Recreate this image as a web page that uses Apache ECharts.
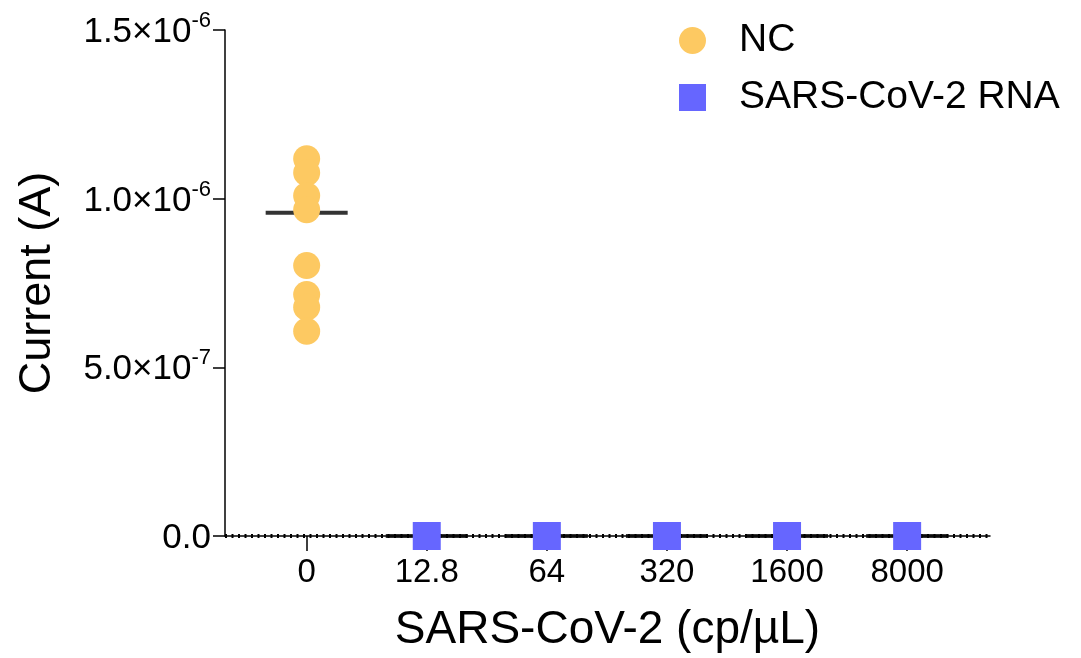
<!DOCTYPE html>
<html><head><meta charset="utf-8">
<script src="https://cdn.jsdelivr.net/npm/echarts@6/dist/echarts.min.js"></script>
<style>html,body{margin:0;padding:0;background:#fff}#c{width:1081px;height:658px}</style>
</head><body><div id="c"></div>
<script>
var categories = ['0', '12.8', '64', '320', '1600', '8000'];
var ncValues = [1.118e-6, 1.077e-6, 1.009e-6, 0.967e-6, 0.802e-6, 0.716e-6, 0.678e-6, 0.607e-6];
var rnaValues = [0, 0, 0, 0, 0];
var meanValues = [0.958e-6, 0, 0, 0, 0, 0];
var yTicks = [0, 5e-7, 1e-6, 1.5e-6];
var yTickMant = ['0.0', '5.0×10', '1.0×10', '1.5×10'];
var yTickExp = ['', '-7', '-6', '-6'];

var FONT = "'Liberation Sans', Arial, Helvetica, sans-serif";
var catIdx = categories.map(function (c, i) { return i; });

var chart = echarts.init(document.getElementById('c'), null, {renderer: 'canvas'});
chart.setOption({
  animation: false,
  textStyle: {fontFamily: FONT},
  grid: {left: 225, right: 91, top: 30, bottom: 121, containLabel: false},
  legend: {
    left: 674, top: 16, orient: 'vertical', itemWidth: 27, itemHeight: 27, itemGap: 18,
    textStyle: {fontSize: 39, lineHeight: 39, color: '#000', fontFamily: FONT, padding: [0, 0, 0, 28]},
    data: [{name: 'NC', icon: 'circle'}, {name: 'SARS-CoV-2 RNA', icon: 'rect'}]
  },
  xAxis: [{
    type: 'value', min: -0.68, max: 5.69, position: 'bottom',
    name: 'SARS-CoV-2 (cp/µL)', nameLocation: 'middle', nameGap: 71,
    nameTextStyle: {fontSize: 46, color: '#000', fontFamily: FONT},
    splitLine: {show: false},
    axisLine: {show: true, onZero: false, lineStyle: {color: '#000', width: 1.5}},
    axisTick: {show: true, length: 15, customValues: catIdx, lineStyle: {color: '#000', width: 1.5}},
    axisLabel: {show: true, customValues: catIdx, margin: 20, fontSize: 33, color: '#000', fontFamily: FONT,
      formatter: function (v) { return categories[Math.round(v)]; }}
  }, {
    type: 'value', min: -0.68, max: 5.69, position: 'bottom',
    splitLine: {show: false},
    axisLine: {show: true, onZero: false, lineStyle: {color: '#000', width: 4, type: [2, 4.5], cap: 'butt'}},
    axisTick: {show: false}, axisLabel: {show: false}
  }],
  yAxis: {
    type: 'value', min: 0, max: 1.5e-6, interval: 5e-7,
    name: 'Current (A)', nameLocation: 'middle', nameGap: 165,
    nameTextStyle: {fontSize: 45, color: '#000', fontFamily: FONT},
    splitLine: {show: false},
    axisLine: {show: true, onZero: false, lineStyle: {color: '#000', width: 1.5}},
    axisTick: {show: true, length: 12, lineStyle: {color: '#000', width: 1.5}},
    axisLabel: {
      margin: 14, color: '#000', fontFamily: FONT,
      formatter: function (v) {
        var i = -1;
        for (var k = 0; k < yTicks.length; k++) if (Math.abs(yTicks[k] - v) < 1e-12) i = k;
        if (i < 0) return '';
        if (!yTickExp[i]) return '{b|' + yTickMant[i] + '}';
        return '{b|' + yTickMant[i] + '}{s|' + yTickExp[i] + '}';
      },
      rich: {
        b: {fontSize: 35, color: '#000', fontFamily: FONT, lineHeight: 40, verticalAlign: 'bottom'},
        s: {fontSize: 22, color: '#000', fontFamily: FONT, lineHeight: 40, verticalAlign: 'top', padding: [0, 0, 16, 0]}
      }
    }
  },
  series: [{
    name: 'mean', type: 'scatter', symbol: 'rect', symbolSize: [82, 4], clip: false, z: 2,
    itemStyle: {color: '#000'}, silent: true,
    data: meanValues.map(function (v, i) { return [i, v]; })
  }, {
    name: 'NC', type: 'scatter', symbol: 'circle', symbolSize: 27, clip: false, z: 3,
    itemStyle: {color: '#FDC962', opacity: 1},
    data: ncValues.map(function (v) { return [0, v]; })
  }, {
    name: 'SARS-CoV-2 RNA', type: 'scatter', symbol: 'rect', symbolSize: 28, clip: false, z: 3,
    itemStyle: {color: '#6666FF', opacity: 1},
    data: rnaValues.map(function (v, i) { return [i + 1, v]; })
  }]
});
</script></body></html>
